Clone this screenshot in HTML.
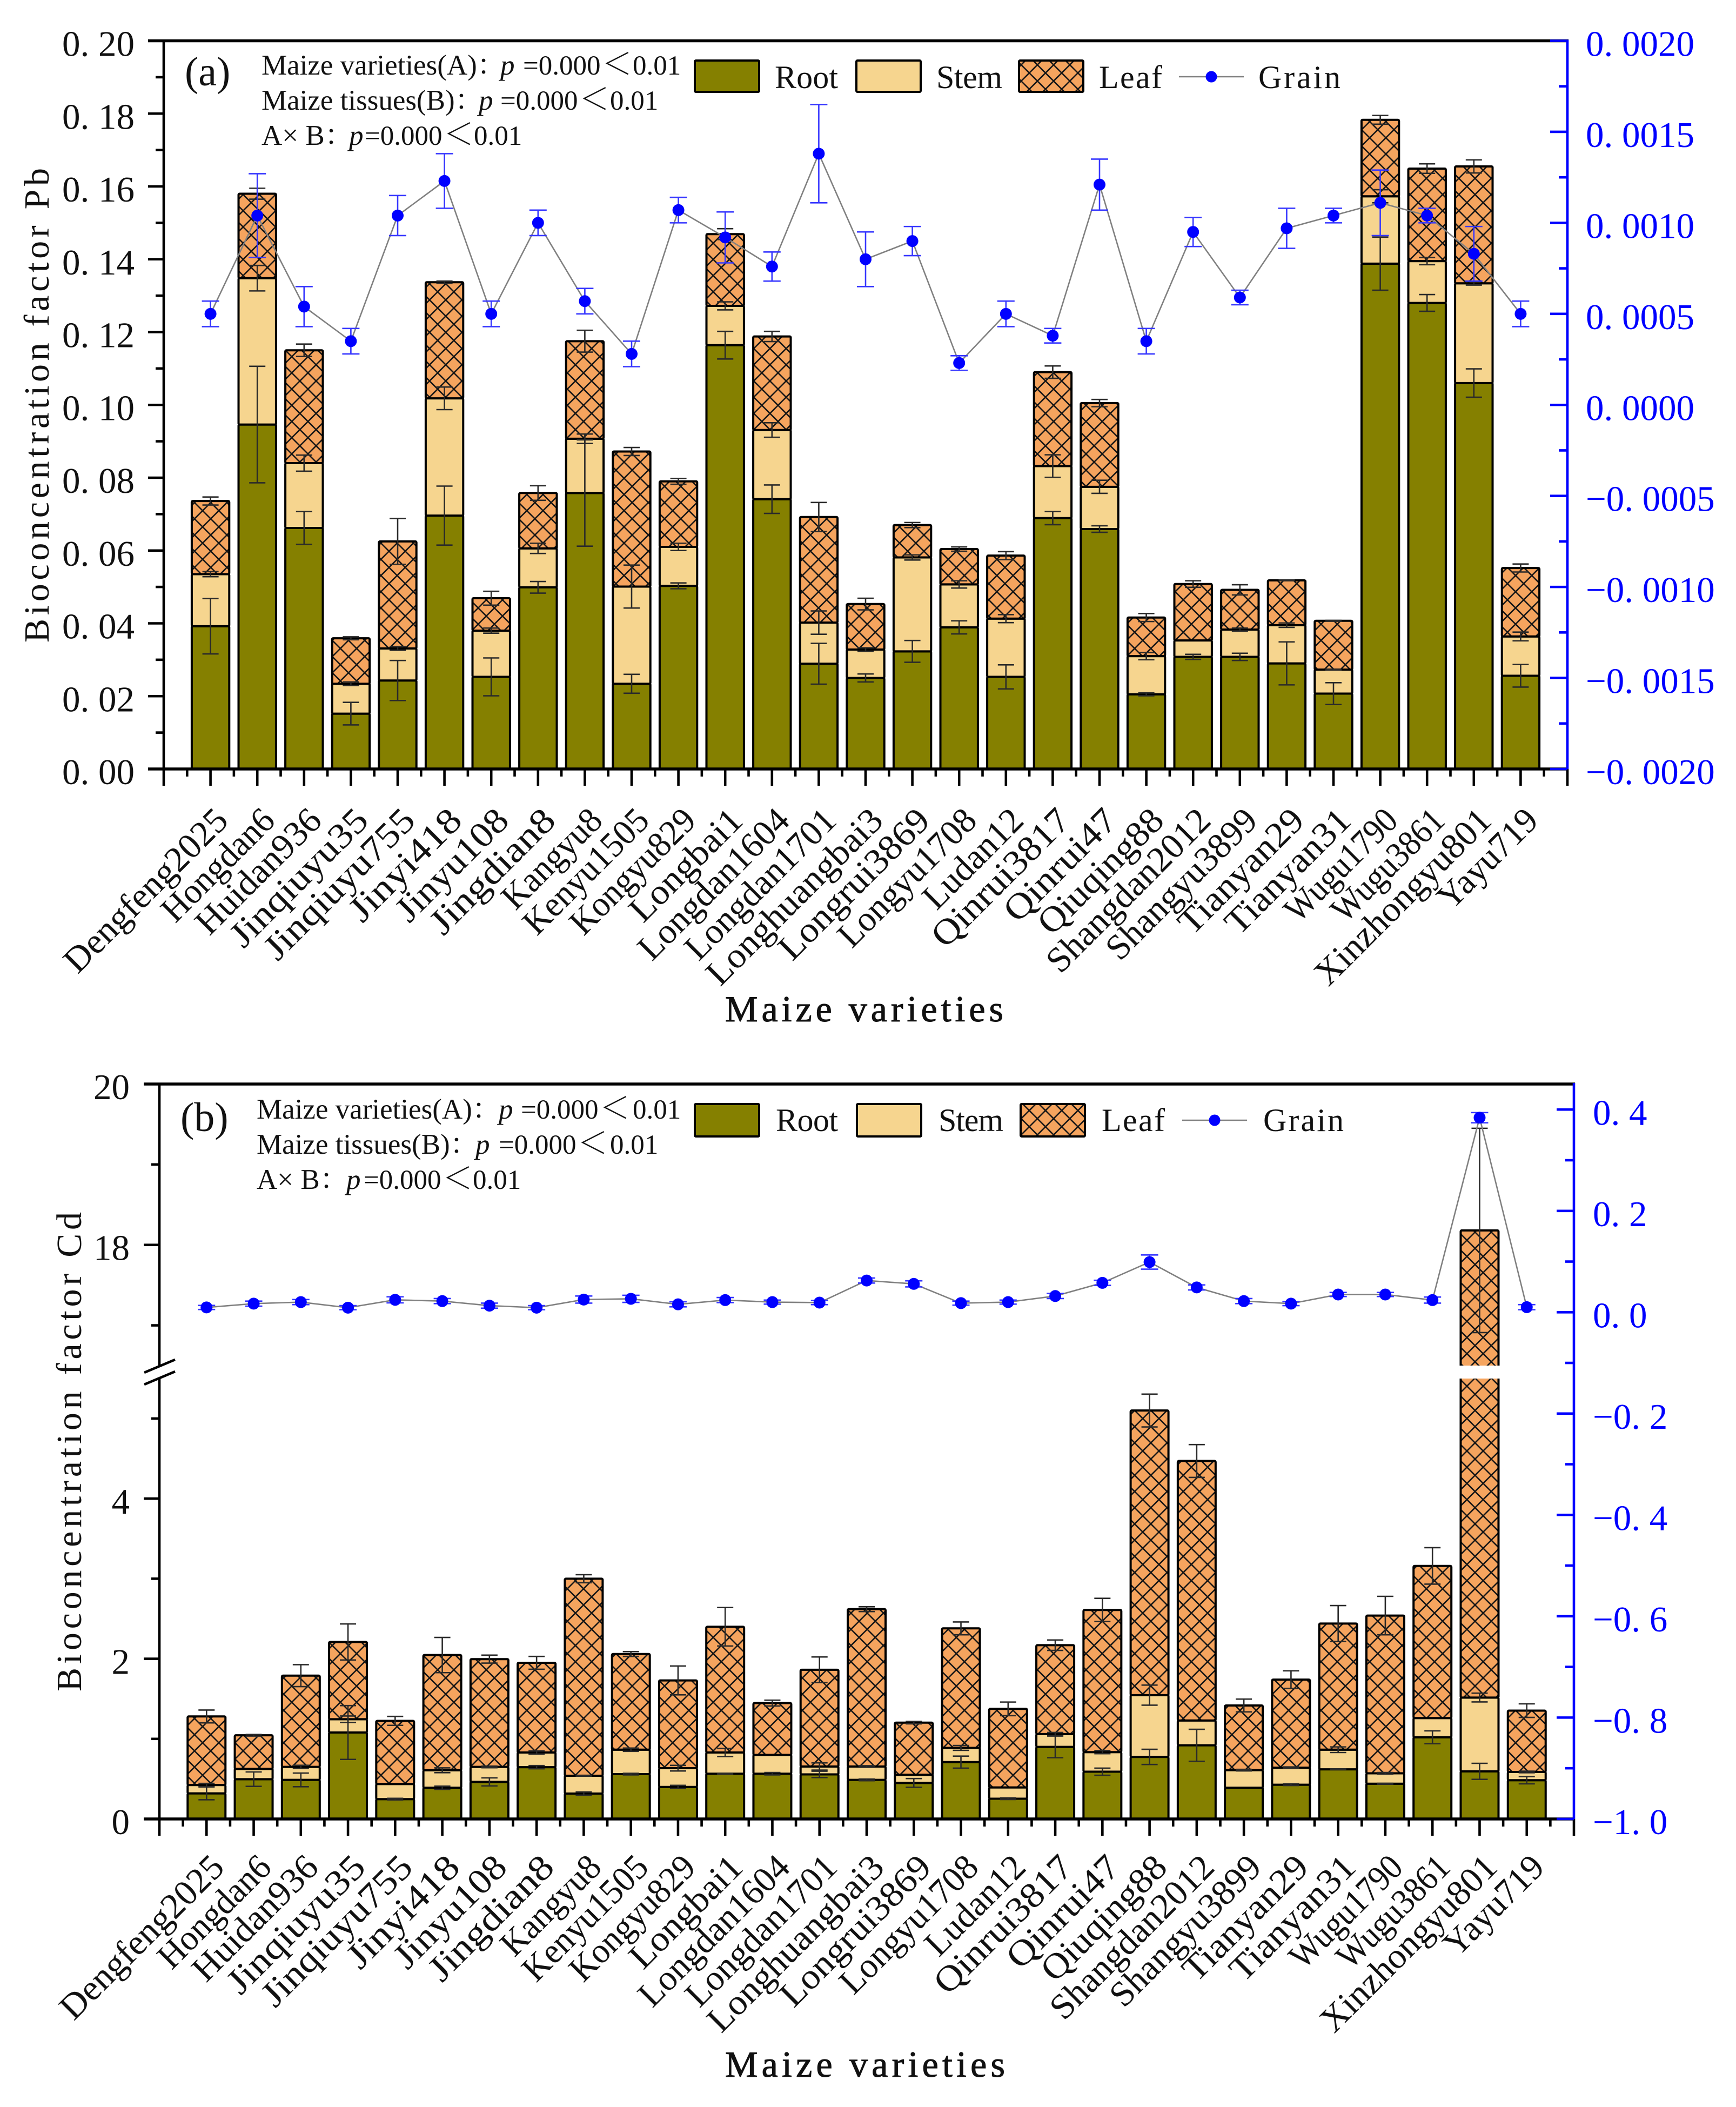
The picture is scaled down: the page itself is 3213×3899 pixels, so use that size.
<!DOCTYPE html>
<html lang="en">
<head>
<meta charset="utf-8">
<title>Bioconcentration factors of Pb and Cd in maize varieties</title>
<style>
html,body{margin:0;padding:0;background:#fff;}
svg{display:block;}
text{font-family:"Liberation Serif","Noto Serif CJK SC",serif;fill:#111;}
.note{font-size:53px;}
.num{font-size:51px;}
.lt{font-size:56px;}
.it{font-style:italic;}
.tag{font-size:76px;}
</style>
</head>
<body>
<svg id="chart" xmlns="http://www.w3.org/2000/svg" width="3213" height="3899" viewBox="0 0 3213 3899">
  <defs>
    <pattern id="hatch" patternUnits="userSpaceOnUse" width="30" height="30">
      <rect width="30" height="30" fill="#F5A45E"/>
      <path d="M0 0L30 30M0 30L30 0" stroke="#161616" stroke-width="2.6" fill="none"/>
    </pattern>
  </defs>
  <rect width="3213" height="3899" fill="#fff"/>
  <g id="panel-a"></g>
  <g id="panel-b"></g>

  <g>
    <text class="tag" x="342" y="158">(a)</text>
    <text class="note" y="138"><tspan x="484">Maize varieties(A)：</tspan><tspan x="926" class="it">p</tspan><tspan x="968" class="num">=0.000</tspan><tspan x="1114" class="lt">＜</tspan><tspan x="1171" class="num">0.01</tspan></text>
    <text class="note" y="203"><tspan x="484">Maize tissues(B)：</tspan><tspan x="886" class="it">p</tspan><tspan x="926" class="num">=0.000</tspan><tspan x="1072" class="lt">＜</tspan><tspan x="1129" class="num">0.01</tspan></text>
    <text class="note" y="268"><tspan x="484">A× B：</tspan><tspan x="646" class="it">p</tspan><tspan x="675" class="num">=0.000</tspan><tspan x="821" class="lt">＜</tspan><tspan x="877" class="num">0.01</tspan></text>
  </g>
  <g>
    <text class="tag" x="334" y="2093">(b)</text>
    <text class="note" y="2070"><tspan x="475">Maize varieties(A)：</tspan><tspan x="923" class="it">p</tspan><tspan x="964" class="num">=0.000</tspan><tspan x="1110" class="lt">＜</tspan><tspan x="1171" class="num">0.01</tspan></text>
    <text class="note" y="2135"><tspan x="475">Maize tissues(B)：</tspan><tspan x="880" class="it">p</tspan><tspan x="923" class="num">=0.000</tspan><tspan x="1069" class="lt">＜</tspan><tspan x="1129" class="num">0.01</tspan></text>
    <text class="note" y="2200"><tspan x="475">A× B：</tspan><tspan x="641" class="it">p</tspan><tspan x="673" class="num">=0.000</tspan><tspan x="819" class="lt">＜</tspan><tspan x="875" class="num">0.01</tspan></text>
  </g>
</svg>
<script>
/* ---------- shared categories ---------- */
var varieties = ["Dengfeng2025","Hongdan6","Huidan936","Jinqiuyu35","Jinqiuyu755","Jinyi418","Jinyu108","Jingdian8","Kangyu8","Kenyu1505","Kongyu829","Longbai1","Longdan1604","Longdan1701","Longhuangbai3","Longrui3869","Longyu1708","Ludan12","Qinrui3817","Qinrui47","Qiuqing88","Shangdan2012","Shangyu3899","Tianyan29","Tianyan31","Wugu1790","Wugu3861","Xinzhongyu801","Yayu719"];

/* ---------- panel (a) Pb : cumulative stack tops ---------- */
var pbRoot = [.0392,.0946,.0662,.0152,.0243,.0696,.0253,.0499,.0758,.0234,.0503,.1164,.0741,.0289,.025,.0323,.0389,.0253,.0689,.0659,.0205,.0308,.0308,.029,.0207,.1388,.128,.106,.0256];
var pbStem = [.0535,.1348,.084,.0234,.0331,.1018,.038,.0606,.0907,.0501,.061,.1272,.0931,.0402,.0328,.0581,.0507,.0413,.0832,.0775,.031,.0353,.0383,.0395,.0273,.1573,.1395,.1334,.0364];
var pbLeaf = [.0736,.158,.115,.0359,.0625,.1337,.0469,.0758,.1175,.0872,.079,.1469,.1188,.0692,.0453,.067,.0604,.0586,.109,.1005,.0416,.0508,.0492,.0518,.0407,.1783,.1649,.1655,.0552];
var pbRootErr = [.0076,.016,.0045,.0031,.0055,.0081,.0052,.0016,.0146,.0026,.0008,.0038,.0039,.0056,.0011,.003,.0018,.0033,.0018,.0009,.0004,.0007,.001,.0059,.003,.0073,.0023,.0039,.0031];
var pbStemErr = [.0007,.0035,.0022,.0005,.0005,.0031,.0007,.0014,.0013,.0059,.001,.0011,.002,.0032,.0005,.0007,.001,.0011,.0031,.0018,.001,0,.0004,.0006,.0001,.0018,.001,.0005,.0012];
var pbLeafErr = [.0011,.0015,.0017,.0004,.0063,.0003,.0019,.002,.003,.0011,.0008,.0015,.0014,.004,.0016,.0007,.0006,.0011,.0017,.001,.0011,.0009,.0014,.0001,.0001,.0012,.0013,.0018,.0011];
var pbGrain = [.0005,.00104,.00054,.00035,.00104,.00123,.0005,.001,.00057,.00028,.00107,.00092,.00076,.00138,.0008,.0009,.00023,.0005,.00038,.00121,.00035,.00095,.00059,.00097,.00104,.00111,.00104,.00083,.0005];
var pbGrainErr = [.00007,.00023,.00011,.00007,.00011,.00015,.00007,.00007,.00007,.00007,.00007,.00014,.00008,.00027,.00015,.00008,.00004,.00007,.00004,.00014,.00007,.00008,.00004,.00011,.00004,.00018,.00004,.00015,.00007];
var pbLeftMajor = [0,.02,.04,.06,.08,.1,.12,.14,.16,.18,.2];
var pbLeftLabels = ["0. 00","0. 02","0. 04","0. 06","0. 08","0. 10","0. 12","0. 14","0. 16","0. 18","0. 20"];
var pbLeftMinor = [.01,.03,.05,.07,.09,.11,.13,.15,.17,.19];
var pbRightMajor = [-.002,-.0015,-.001,-.0005,0,.0005,.001,.0015,.002];
var pbRightLabels = ["−0. 0020","−0. 0015","−0. 0010","−0. 0005","0. 0000","0. 0005","0. 0010","0. 0015","0. 0020"];
var pbRightMinor = [-.00175,-.00125,-.00075,-.00025,.00025,.00075,.00125,.00175];

/* ---------- panel (b) Cd : cumulative stack tops ---------- */
var cdRoot = [.32,.497,.488,1.08,.248,.39,.463,.647,.317,.56,.4,.565,.565,.557,.488,.45,.71,.253,.9,.59,.775,.92,.39,.428,.62,.44,1.02,.595,.484];
var cdStem = [.424,.625,.65,1.246,.437,.608,.65,.83,.54,.865,.634,.83,.8,.655,.655,.552,.887,.394,1.06,.835,1.546,1.23,.61,.64,.865,.57,1.26,1.516,.587];
var cdLeaf = [1.28,1.045,1.79,2.21,1.225,2.047,1.996,1.95,3.0,2.06,1.73,2.4,1.447,1.863,2.62,1.203,2.38,1.375,2.17,2.61,5.1,4.47,1.417,1.74,2.44,2.54,3.16,18.18,1.353];
var cdRootErr = [.08,.09,.085,.336,.01,.02,.05,.02,.02,.01,.02,.005,.015,.04,.01,.055,.075,.01,.135,.045,.095,.2,0,.01,.005,.005,.08,.1,.045];
var cdStemErr = [.02,0,.02,.04,0,.03,.01,.02,.005,.02,.035,.05,0,.045,.01,0,.03,0,.02,.02,.125,0,.01,.01,.035,.01,0,.055,.01];
var cdLeafErr = [.08,.01,.137,.225,.056,.22,.05,.08,.05,.03,.18,.24,.036,.16,.03,.015,.08,.085,.065,.145,.205,.205,.08,.11,.225,.24,.228,1.27,.085];
var cdGrain = [.0095,.017,.02,.009,.0245,.022,.013,.009,.025,.0265,.0156,.024,.02,.019,.0626,.056,.018,.02,.032,.058,.099,.049,.022,.017,.035,.035,.024,.384,.01];
var cdGrainErr = [.004,.005,.005,.004,.006,.005,.005,.004,.007,.007,.005,.005,.004,.004,.005,.006,.004,.004,.005,.005,.014,.005,.005,.004,.004,.004,.006,.01,.005];
var cdLeftMajor = [0,2,4,18,20];
var cdLeftLabels = ["0","2","4","18","20"];
var cdLeftMinor = [1,3,5,17,19];
var cdRightMajor = [-1,-.8,-.6,-.4,-.2,0,.2,.4];
var cdRightLabels = ["−1. 0","−0. 8","−0. 6","−0. 4","−0. 2","0. 0","0. 2","0. 4"];
var cdRightMinor = [-.9,-.7,-.5,-.3,-.1,.1,.3];

var legendNames = ["Root","Stem","Leaf"];
var xMinorSteps = [0.5];

var NS = "http://www.w3.org/2000/svg";
function add(tag, attrs, parent){
  var e = document.createElementNS(NS, tag);
  for (var k in attrs) e.setAttribute(k, attrs[k]);
  parent.appendChild(e);
  return e;
}

function drawPanel(p){
  var g = document.getElementById(p.id);
  var key = p.key;
  var xOf = function(c){ return p.left + c * (p.right - p.left) / 30; };
  var BLUE = "#0000ff";

  /* bars */
  var barsG = add("g", {}, g);
  
  
  varieties.forEach(function(name, i){
    var x = xOf(i + 1), hw = p.barHalf;
    var layers = [
      {n:"root", lo:0, hi:p.root[i], fill:"#858000"},
      {n:"stem", lo:p.root[i], hi:p.stem[i], fill:"#F6D58F"},
      {n:"leaf", lo:p.stem[i], hi:p.leaf[i], fill:"url(#hatch)"}
    ];
    layers.forEach(function(l){
      var yTop = p.yL(l.hi), yBot = p.yL(l.lo);
      var r = add("rect", {x:x-hw, y:yTop, width:2*hw, height:yBot-yTop, fill:l.fill, stroke:"#000", "stroke-width":4, rx:2}, barsG);
      
      
    });
  });

  /* black error bars */
  var errG = add("g", {stroke:"#2a2a2a", "stroke-width":2.6, fill:"none"}, g);
  
  
  varieties.forEach(function(name, i){
    var x = xOf(i + 1);
    [[p.root[i],p.rootErr[i]],[p.stem[i],p.stemErr[i]],[p.leaf[i],p.leafErr[i]]].forEach(function(pair){
      if (!pair[1]) return;
      var y1 = p.yL(pair[0]+pair[1]), y2 = p.yL(pair[0]-pair[1]);
      var ep = add("path", {d:"M"+(x-15)+" "+y1+"H"+(x+15)+"M"+x+" "+y1+"V"+y2+"M"+(x-15)+" "+y2+"H"+(x+15)}, errG);
      
      
    });
  });

  /* axis break band */
  if (p.breakTop){
    var band = add("rect", {x:p.left+3, y:p.breakTop, width:p.right-p.left-6, height:p.breakBot-p.breakTop, fill:"#fff"}, g);
    
    
  }

  /* grain line */
  var pts = p.grain.map(function(v,i){ return xOf(i+1)+","+p.yR(v); }).join(" ");
  var line = add("polyline", {points:pts, fill:"none", stroke:"#808080", "stroke-width":2.6}, g);
  
  

  /* grain error bars + markers */
  var grainG = add("g", {}, g);
  
  
  p.grain.forEach(function(v,i){
    var x = xOf(i+1), e = p.grainErr[i];
    var y1 = p.yR(v+e), y2 = p.yR(v-e);
    var gp = add("path", {d:"M"+(x-16)+" "+y1+"H"+(x+16)+"M"+x+" "+y1+"V"+y2+"M"+(x-16)+" "+y2+"H"+(x+16), stroke:"#3636ff", "stroke-width":2.6, fill:"none"}, grainG);
    
    
    var c = add("circle", {cx:x, cy:p.yR(v), r:11, fill:BLUE}, grainG);
    
    
  });

  /* axes */
  var axG = add("g", {stroke:"#000", "stroke-width":4.6, fill:"none", "stroke-linecap":"butt"}, g);
  
  

  var topAxis = add("path", {d:"M"+(p.left-29)+" "+p.top+"H"+(p.right+2), "stroke-width":5.5}, axG);
  
  

  var bottomAxis = add("path", {d:"M"+(p.left-29)+" "+p.bottom+"H"+(p.right+2), "stroke-width":5.5}, axG);
  
  

  var leftD = p.breakTop
    ? "M"+p.left+" "+p.top+"V"+p.breakTop+"M"+p.left+" "+p.breakBot+"V"+p.bottom
    : "M"+p.left+" "+p.top+"V"+p.bottom;
  var leftAxis = add("path", {d:leftD}, axG);
  
  

  if (p.breakTop){
    var br = add("path", {d:"M"+(p.left-28)+" "+(p.breakTop+13)+"L"+(p.left+29)+" "+(p.breakTop-11)+"M"+(p.left-28)+" "+(p.breakBot+11)+"L"+(p.left+29)+" "+(p.breakBot-13)}, axG);
    
    
  }

  /* left ticks */
  p.leftMajor.forEach(function(v,i){
    var y = p.yL(v);
    var t = add("path", {d:"M"+(p.left-29)+" "+y+"H"+p.left}, axG);
    
    
    var lab = add("text", {x:p.leftLabelX, y:y+28, "text-anchor":"end", "font-size":67, stroke:"none"}, g);
    lab.textContent = p.leftLabels[i];
    
    
  });
  p.leftMinor.forEach(function(v){
    var t = add("path", {d:"M"+(p.left-15)+" "+p.yL(v)+"H"+p.left}, axG);
    
    
  });

  /* bottom ticks */
  for (var c = 0; c <= 30; c++){
    var bt = add("path", {d:"M"+xOf(c)+" "+p.bottom+"V"+(p.bottom+31)}, axG);
    
    
    if (c < 30){
      var mt = add("path", {d:"M"+xOf(c+xMinorSteps[0])+" "+p.bottom+"V"+(p.bottom+14)}, axG);
      
      
    }
  }

  /* right axis */
  var rightG = add("g", {stroke:BLUE, "stroke-width":4.6, fill:"none"}, g);
  
  
  var rightAxis = add("path", {d:"M"+p.right+" "+(p.top-2)+"V"+p.bottom}, rightG);
  
  
  p.rightMajor.forEach(function(v,i){
    var y = p.yR(v);
    var t = add("path", {d:"M"+(p.right-32)+" "+y+"H"+p.right}, rightG);
    
    
    var lab = add("text", {x:p.rightLabelX, y:y+28, "font-size":67, stroke:"none"}, g);
    lab.setAttribute('style', 'fill:' + BLUE);
    lab.textContent = p.rightLabels[i];
    
    
  });
  p.rightMinor.forEach(function(v){
    var t = add("path", {d:"M"+(p.right-16)+" "+p.yR(v)+"H"+p.right}, rightG);
    
    
  });

  /* category labels */
  varieties.forEach(function(name,i){
    var len = name.length * 33.2;
    var xl = add("text", {x:-len, y:0, textLength:len, lengthAdjust:"spacingAndGlyphs", "font-size":66,
      transform:"translate("+(xOf(i+1)+36)+" "+p.labelY+") rotate(-45)"}, g);
    xl.textContent = name;
    
    
  });

  /* axis titles */
  var xt = add("text", {x:p.xTitleX, y:p.xTitleY, textLength:p.xTitleLen, lengthAdjust:"spacing", "font-size":68, style:"stroke:#111;stroke-width:1"}, g);
  xt.textContent = "Maize varieties";
  
  

  var yt = add("text", {x:0, y:0, textLength:p.yTitleLen, lengthAdjust:"spacing", "font-size":66,
    transform:"translate("+p.yTitleX+" "+p.yTitleBottom+") rotate(-90)"}, g);
  yt.textContent = p.yTitle;
  
  

  /* legend */
  var lg = add("g", {}, g);
  
  
  var fills = ["#858000","#F6D58F","url(#hatch)"];
  legendNames.forEach(function(n,i){
    var sw = add("rect", {x:p.swX[i], y:p.swY, width:119, height:p.swH, fill:fills[i], stroke:"#000", "stroke-width":4, rx:2}, lg);
    
    
    var tx = add("text", {x:p.lgX[i], y:p.lgBase, textLength:p.lgLen[i], lengthAdjust:"spacing", "font-size":60}, lg);
    tx.textContent = n;
    
    
  });
  var gl = add("path", {d:"M"+p.gLine[0]+" "+p.gY+"H"+p.gLine[1], stroke:"#808080", "stroke-width":2.6, fill:"none"}, lg);
  
  
  var gm = add("circle", {cx:(p.gLine[0]+p.gLine[1])/2, cy:p.gY, r:10.5, fill:BLUE}, lg);
  
  
  var gt = add("text", {x:p.lgX[3], y:p.lgBase, textLength:p.lgLen[3], lengthAdjust:"spacing", "font-size":60}, lg);
  gt.textContent = "Grain";
  
  
}

drawPanel({
  id:"panel-a", key:"pb", left:303, right:2901, top:75.5, bottom:1423, barHalf:34.7,
  root:pbRoot, stem:pbStem, leaf:pbLeaf, rootErr:pbRootErr, stemErr:pbStemErr, leafErr:pbLeafErr,
  grain:pbGrain, grainErr:pbGrainErr,
  yL:function(v){ return 1423 - v*6737.5; },
  yR:function(v){ return 749.25 - v*336875; },
  leftMajor:pbLeftMajor, leftLabels:pbLeftLabels, leftMinor:pbLeftMinor,
  rightMajor:pbRightMajor, rightLabels:pbRightLabels, rightMinor:pbRightMinor,
  leftLabelX:249, rightLabelX:2935, labelY:1522,
  xTitleX:1342, xTitleY:1890, xTitleLen:515,
  yTitle:"Bioconcentration factor Pb", yTitleX:90, yTitleBottom:1189, yTitleLen:878,
  swX:[1286,1585,1886], swY:112, swH:58, lgX:[1434,1733,2034,2329], lgLen:[117,122,117,152], lgBase:163,
  gLine:[2182,2302], gY:142
});

drawPanel({
  id:"panel-b", key:"cd", left:295, right:2913, top:2006, bottom:3366, barHalf:35,
  root:cdRoot, stem:cdStem, leaf:cdLeaf, rootErr:cdRootErr, stemErr:cdStemErr, leafErr:cdLeafErr,
  grain:cdGrain, grainErr:cdGrainErr,
  yL:function(v){ return v <= 5.5 ? 3366 - v*148.2 : 2527 - (v-16.5)*148.86; },
  yR:function(v){ return 2428.3 - v*937.6; },
  leftMajor:cdLeftMajor, leftLabels:cdLeftLabels, leftMinor:cdLeftMinor,
  rightMajor:cdRightMajor, rightLabels:cdRightLabels, rightMinor:cdRightMinor,
  breakTop:2527, breakBot:2551,
  leftLabelX:240, rightLabelX:2948, labelY:3459,
  xTitleX:1342, xTitleY:3843, xTitleLen:518,
  yTitle:"Bioconcentration factor Cd", yTitleX:150, yTitleBottom:3130, yTitleLen:887,
  swX:[1286,1586,1889], swY:2043, swH:60, lgX:[1436,1737,2039,2338], lgLen:[115,120,117,149], lgBase:2093,
  gLine:[2188,2308], gY:2073
});
</script>
</body>
</html>
